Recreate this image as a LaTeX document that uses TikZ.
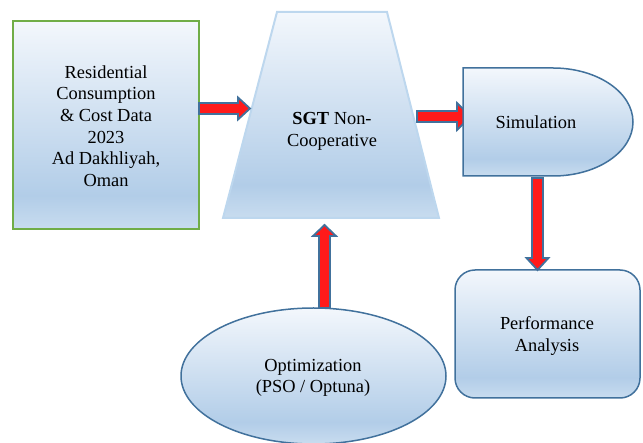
\documentclass[tikz,border=0pt]{standalone}
\usepackage{fontspec}
\setmainfont{Liberation Serif}
\usetikzlibrary{shapes.geometric}
\definecolor{gtop}{HTML}{F3F7FC}
\definecolor{gmid}{HTML}{B2CDE8}
\definecolor{gbot}{HTML}{C8DCEF}
\definecolor{dblue}{HTML}{41719C}
\definecolor{lblue}{HTML}{BDD7EE}
\definecolor{ggreen}{HTML}{70AD47}
\definecolor{arred}{HTML}{FF1A1A}
\pgfdeclareverticalshading{officeblue}{100bp}{color(0bp)=(gbot); color(25bp)=(gbot); color(33bp)=(gmid); color(75bp)=(gtop); color(100bp)=(gtop)}
\tikzset{
  txt/.style={font=\fontsize{18.4pt}{21.6pt}\selectfont, align=center, text=black},
  fillshade/.style={shading=officeblue},
  barrow/.style={draw=dblue, line width=1.8pt, fill=arred, line join=miter},
}
\newcommand\harr[5]{%
  \draw[barrow] (#1,#3-5.5) -- (#2-#5,#3-5.5) -- (#2-#5,#3-#4) -- (#2,#3) -- (#2-#5,#3+#4) -- (#2-#5,#3+5.5) -- (#1,#3+5.5) -- cycle;}
\newcommand\varrD[5]{%
  \draw[barrow] (#1-5.5,#2) -- (#1-5.5,#3-#5) -- (#1-#4,#3-#5) -- (#1,#3) -- (#1+#4,#3-#5) -- (#1+5.5,#3-#5) -- (#1+5.5,#2) -- cycle;}
\newcommand\varrU[5]{%
  \draw[barrow] (#1-5.5,#2) -- (#1-5.5,#3+#5) -- (#1-#4,#3+#5) -- (#1,#3) -- (#1+#4,#3+#5) -- (#1+5.5,#3+#5) -- (#1+5.5,#2) -- cycle;}
\begin{document}
\begin{tikzpicture}[x=1pt,y=-1pt]
\useasboundingbox (0,0) rectangle (643,443);
% data box
\node[draw=ggreen, line width=2.2pt, fillshade, minimum width=186pt, minimum height=208pt, inner sep=0pt] (data) at (106,125) {};
\node[txt] (datatext) at (106,126) {Residential\\Consumption\\\& Cost Data\\2023\\Ad Dakhliyah,\\Oman};
% trapezoid
\draw[draw=lblue, line width=2pt, fillshade] (277,12) -- (387,12) -- (439,218) -- (223,218) -- cycle;
\node[txt] (sgt) at (332,131.5) {\textbf{SGT} Non-\\Cooperative};
% arrow behind simulation
\harr{417}{471}{116.5}{13.5}{14}
% simulation shape
\draw[draw=dblue, line width=1.5pt, fillshade] (463,68) -- (553,68) .. controls (597.2,68) and (633,92.2) .. (633,122) .. controls (633,151.8) and (597.2,176) .. (553,176) -- (463,176) -- cycle;
\node[txt] (sim) at (536,122) {Simulation};
% performance
\node[draw=dblue, line width=1.5pt, fillshade, rounded corners=20pt, minimum width=185pt, minimum height=128pt, inner sep=0pt] (perf) at (547.5,334) {};
\node[txt] (perftext) at (547,336) {Performance\\Analysis};
% optimization ellipse
\node[ellipse, draw=dblue, line width=1.5pt, fillshade, minimum width=265pt, minimum height=136pt, inner sep=0pt] (opt) at (313.5,376) {};
\node[txt] (opttext) at (313,378) {Optimization\\(PSO / Optuna)};
% arrows
\harr{199}{250}{108.5}{11}{12}
\varrD{537.5}{178}{270}{11}{12}
\varrU{324.5}{308}{225}{11.5}{11}
\end{tikzpicture}
\end{document}
